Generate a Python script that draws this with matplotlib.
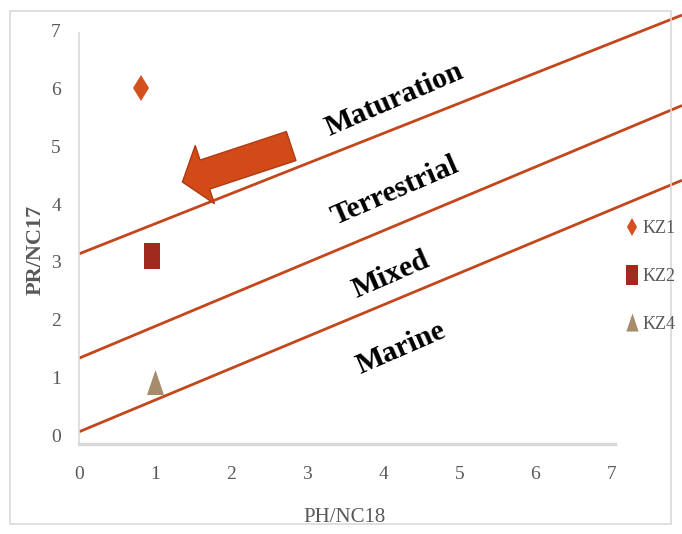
import matplotlib
matplotlib.use("Agg")
import matplotlib.pyplot as plt
from matplotlib.patches import Rectangle
from matplotlib.lines import Line2D

# ---------------- data ----------------
samples = ["KZ1", "KZ2", "KZ4"]
ph_nc18 = [0.82, 0.96, 1.0]
pr_nc17 = [6.0, 3.10, 0.93]
sample_colors = ["#D4501C", "#A02A1E", "#A68C6A"]

# boundary lines (x from, x to, y from, y to)
line_x = [0.0, 7.93]
line_maturation = [3.14, 7.26]
line_terrestrial = [1.34, 5.70]
line_marine = [0.07, 4.41]

zone_labels = ["Maturation", "Terrestrial", "Mixed", "Marine"]
zone_label_x = [4.15, 4.15, 4.1, 4.24]
zone_label_y = [5.8, 4.22, 2.78, 1.52]

x_ticks = [0, 1, 2, 3, 4, 5, 6, 7]
y_ticks = [0, 1, 2, 3, 4, 5, 6, 7]

# arrow (tail, tip) in data units
arrow_tail = (2.79, 5.0)
arrow_tip = (1.36, 4.38)

# ---------------- figure ----------------
W, H = 682, 534
fig = plt.figure(figsize=(W / 100, H / 100), dpi=100)
ax = fig.add_axes([79 / W, 90 / H, 1 - 79 / W, 1 - 90 / H])
ax.set_xlim(0, 7.93)
ax.set_ylim(-0.14, 7.52)

serif = ["Liberation Serif", "DejaVu Serif"]
grey = "#595959"

for s in ["top", "right"]:
    ax.spines[s].set_visible(False)
ax.spines["left"].set_color("#D9D9D9")
ax.spines["bottom"].set_color("#D9D9D9")
ax.spines["left"].set_linewidth(1.2)
ax.spines["bottom"].set_linewidth(2.5)
ax.spines["left"].set_bounds(-0.14, 6.95)
ax.spines["bottom"].set_bounds(0, 7.05)

ax.set_xticks(x_ticks)
ax.set_yticks(y_ticks)
ax.tick_params(length=0, labelsize=14, labelcolor=grey)
ax.tick_params(axis="x", pad=16)
ax.tick_params(axis="y", pad=13)
for lab in ax.get_xticklabels() + ax.get_yticklabels():
    lab.set_family(serif)

# boundary lines
for ly in [line_maturation, line_terrestrial, line_marine]:
    ax.plot(line_x, ly, color="#C4461C", lw=2.0, solid_capstyle="butt", zorder=2)

# zone labels
for t, x, y in zip(zone_labels, zone_label_x, zone_label_y):
    ax.text(x, y, t, family=serif, fontweight="bold", fontsize=21.5, color="black",
            rotation=23.5, rotation_mode="anchor", ha="center", va="center", zorder=3)

# arrow
ax.annotate("", xy=arrow_tip, xytext=arrow_tail,
            arrowprops=dict(arrowstyle="simple,head_width=4.4,head_length=1.7,tail_width=2.2",
                            mutation_scale=10, fc="#D24A18", ec="#B03A12", lw=1.0,
                            shrinkA=0, shrinkB=0), zorder=4)

# markers
rect_marker = [(-0.3, -0.5), (0.3, -0.5), (0.3, 0.5), (-0.3, 0.5), (-0.3, -0.5)]
tri_marker = [(-0.34, -0.5), (0.34, -0.5), (0.0, 0.5), (-0.34, -0.5)]
markers = ["d", rect_marker, tri_marker]
sizes = [13.5, 19, 18]
legend_sizes = [9.2, 15, 13]
handles = []
for name, x, y, c, m, s, ls in zip(samples, ph_nc18, pr_nc17, sample_colors, markers,
                                   sizes, legend_sizes):
    ax.plot([x], [y], linestyle="none", marker=m, markersize=s, color=c,
            markeredgewidth=0, zorder=5)
    handles.append(Line2D([], [], linestyle="none", marker=m, markersize=ls,
                          color=c, markeredgewidth=0))

leg = fig.legend(handles, samples, loc="upper left",
                 bbox_to_anchor=(616 / W, 1 - 213 / H), frameon=False,
                 prop={"family": serif, "size": 13}, labelspacing=1.7,
                 handletextpad=0.05, handlelength=1.0, borderaxespad=0)
for t in leg.get_texts():
    t.set_color(grey)

# axis titles
fig.text(36 / W, 1 - 250 / H, "PR/NC17", rotation=90, ha="center", va="center",
         family=serif, fontsize=16, fontweight="bold", color=grey)
fig.text(345 / W, 1 - 517 / H, "PH/NC18", ha="center", va="center",
         family=serif, fontsize=15, color=grey)

# outer frame
fig.patches.append(Rectangle((10 / W, 10 / H), 661 / W, 513 / H, transform=fig.transFigure,
                             fill=False, ec="#D9D9D9", lw=1.2))

fig.savefig("out.png", dpi=100)
